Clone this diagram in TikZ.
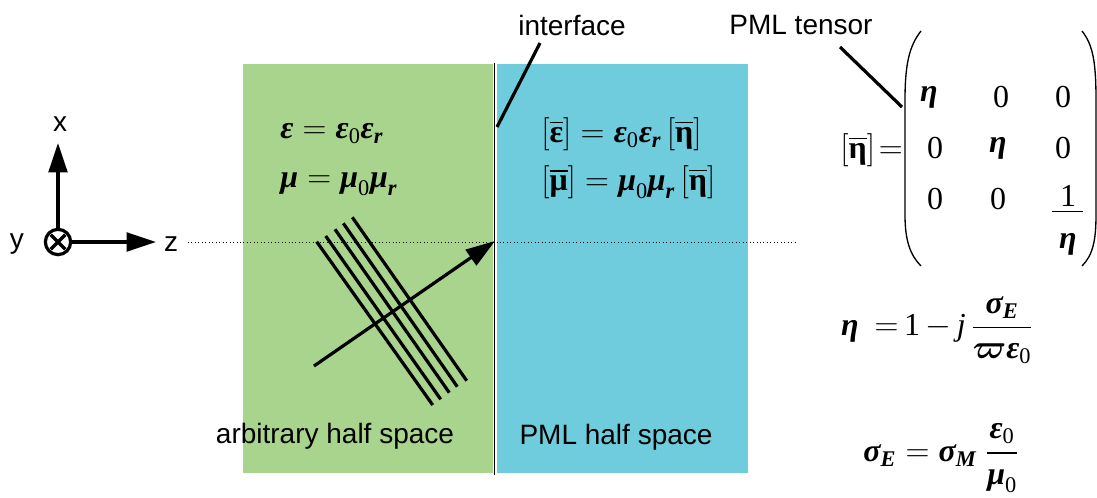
\documentclass[tikz,border=0pt]{standalone}
\usepackage{amsmath}
\usepackage{fontspec}
\setmainfont{Liberation Serif}
\newfontfamily\labelfont{Liberation Sans}
\usetikzlibrary{arrows.meta}
\definecolor{greenhs}{RGB}{169,212,142}
\definecolor{bluehs}{RGB}{111,204,220}
\newcommand\bgk[1]{\text{\bfseries\itshape #1}}
\newcommand\ugk[1]{\text{\bfseries #1}}
\newcommand\dg[1]{\text{\normalfont #1}}
\newcommand\brk[1]{\left[\overline{\ugk{#1}}\right]}
\begin{document}
\begin{tikzpicture}[x=0.75pt,y=-0.75pt,
  lbl/.style={font=\labelfont\fontsize{21}{24}\selectfont, inner sep=0pt},
  eqn/.style={font=\fontsize{24}{28}\selectfont, inner sep=0pt},
  thickln/.style={line width=2.4pt, line cap=butt},
  bigarrow/.style={line width=2.4pt, -{Triangle[length=22pt,width=14pt]}},
  paren/.style={line width=1pt}]
\useasboundingbox (0,0) rectangle (1097,497);
% half spaces
\fill[greenhs] (243,64) rectangle (493,473);
\fill[bluehs] (497,64) rectangle (748,473);
\coordinate (ifTop) at (494.5,63);
\coordinate (ifBot) at (494.5,475);
\draw[line width=0.8pt] (ifTop) -- (ifBot);
% dotted axis line
\coordinate (dotL) at (188,242);
\coordinate (dotR) at (798,242);
\draw[dotted, line width=0.6pt] (dotL) -- (dotR);
% coordinate system
\node[circle, draw, line width=2.4pt, minimum size=19pt, inner sep=0pt] (yax) at (58,242) {};
\draw[line width=2.6pt, shorten >=3pt, shorten <=3pt] (yax.45) -- (yax.225);
\draw[line width=2.6pt, shorten >=3pt, shorten <=3pt] (yax.135) -- (yax.315);
\coordinate (xtip) at (58,143);
\coordinate (ztip) at (156,242);
\draw[bigarrow] (yax.north) -- (xtip);
\draw[bigarrow] (yax.east) -- (ztip);
\node[lbl] (xl) at (60,124) {x};
\node[lbl] (yl) at (17,244) {y};
\node[lbl] (zl) at (171,244) {z};
% wave fronts
\foreach \i/\ax/\ay/\bx/\by in {1/316.7/241.7/432.7/405, 2/325.7/236/440.7/399.3, 3/335/229.3/449.3/392.7, 4/343.3/223.3/457.3/386.7, 5/352.3/217.3/466.7/380.7}{
  \coordinate (wa\i) at (\ax,\ay);
  \coordinate (wb\i) at (\bx,\by);
  \draw[thickln] (wa\i) -- (wb\i);
}
\coordinate (kstart) at (314,366);
\coordinate (ktip) at (495,241);
\draw[bigarrow] (kstart) -- (ktip);
% labels
\node[lbl] (arb) at (335,436) {arbitrary half space};
\node[lbl] (pmlhs) at (616,437) {PML half space};
\node[lbl] (iface) at (572,25) {interface};
\node[lbl] (pmlt) at (801,25) {PML tensor};
\coordinate (ifA) at (540,43);
\coordinate (ifB) at (497,127);
\draw[thickln] (ifA) -- (ifB);
\coordinate (ptA) at (840,47);
\coordinate (ptB) at (902,107);
\draw[thickln] (ptA) -- (ptB);
% material equations
\node[eqn, anchor=west] (eq1) at (280,134) {$\bgk{ε} = \bgk{ε}_{\dg{0}}\bgk{ε}_{\bgk{r}}$};
\node[eqn, anchor=west] (eq2) at (280,184) {$\bgk{μ} = \bgk{μ}_{\dg{0}}\bgk{μ}_{\bgk{r}}$};
\node[eqn, anchor=west] (eq3) at (541,134) {$\brk{ε} = \bgk{ε}_{\dg{0}}\bgk{ε}_{\bgk{r}}\brk{η}$};
\node[eqn, anchor=west] (eq4) at (541,182) {$\brk{μ} = \bgk{μ}_{\dg{0}}\bgk{μ}_{\bgk{r}}\brk{η}$};
% tensor
\node[eqn, anchor=east] (etab) at (903,150) {$\brk{η}\!=$};
\draw[paren] (921,31) .. controls (910,45) and (905,62) .. (905,100) -- (905,215) .. controls (905,240) and (910,255) .. (921,266);
\draw[paren] (1082,31) .. controls (1093,45) and (1096,62) .. (1096,100) -- (1096,215) .. controls (1096,240) and (1093,255) .. (1082,266);
\node[eqn] (m11) at (929,97) {$\bgk{η}$};
\node[eqn] (m12) at (1001,97) {\dg{0}};
\node[eqn] (m13) at (1063,97) {\dg{0}};
\node[eqn] (m21) at (935,148) {\dg{0}};
\node[eqn] (m22) at (998,148) {$\bgk{η}$};
\node[eqn] (m23) at (1063,148) {\dg{0}};
\node[eqn] (m31) at (935,199) {\dg{0}};
\node[eqn] (m32) at (998,199) {\dg{0}};
\node[eqn] (m33n) at (1068,196) {\dg{1}};
\node[eqn] (m33d) at (1068,244) {$\bgk{η}$};
\coordinate (fracL) at (1052,211);
\coordinate (fracR) at (1083,211);
\draw[line width=0.6pt] (fracL) -- (fracR);
% bottom equations
\node[eqn] (etadef) at (937,330) {$\bgk{η}\ \ {=}\,\dg{1}\,{-}\,\text{\itshape j}\,\dfrac{\bgk{σ}_{\bgk{E}}}{\boldsymbol{\varpi}\bgk{ε}_{\dg{0}}}$};
\node[eqn] (sigdef) at (941,458) {$\bgk{σ}_{\bgk{E}} = \bgk{σ}_{\bgk{M}}\;\dfrac{\bgk{ε}_{\dg{0}}}{\bgk{μ}_{\dg{0}}}$};
\end{tikzpicture}
\end{document}
